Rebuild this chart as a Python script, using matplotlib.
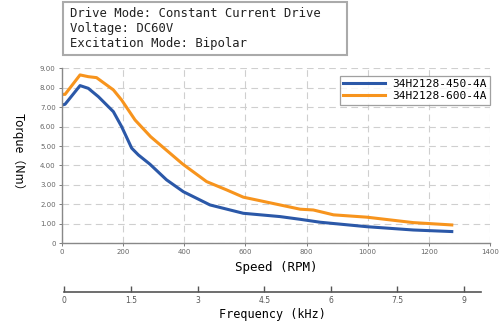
#!/usr/bin/env python3
"""
Torque-speed curves for 34H2128 stepper motors (DC60V, bipolar)
"""

import matplotlib
matplotlib.use('Agg')
import matplotlib.pyplot as plt
from matplotlib.patches import Rectangle
from matplotlib.ticker import FuncFormatter

# Data
speed_450 = [0, 10, 59, 86, 119, 168, 195, 228, 250, 288, 342, 397, 484,
             593, 713, 779, 844, 997, 1149, 1275]
torque_450 = [7.11, 7.15, 8.11, 7.97, 7.54, 6.77, 6.00, 4.89, 4.54, 4.06,
              3.26, 2.65, 1.97, 1.54, 1.37, 1.23, 1.08, 0.85, 0.68, 0.60]

speed_600 = [0, 10, 59, 86, 113, 168, 195, 239, 290, 395, 473, 539, 593,
             713, 779, 822, 888, 997, 1149, 1275]
torque_600 = [7.66, 7.66, 8.66, 8.57, 8.52, 7.89, 7.37, 6.34, 5.48, 4.07,
              3.17, 2.74, 2.37, 1.97, 1.75, 1.71, 1.46, 1.34, 1.06, 0.94]

labels = ['34H2128-450-4A', '34H2128-600-4A']
colors = ['#2b58a8', '#f7941d']

info_lines = ['Drive Mode: Constant Current Drive',
              'Voltage: DC60V',
              'Excitation Mode: Bipolar']

speed_ticks = [0, 200, 400, 600, 800, 1000, 1200, 1400]
torque_ticks = [0, 1, 2, 3, 4, 5, 6, 7, 8, 9]
freq_ticks = [0, 1.5, 3, 4.5, 6, 7.5, 9]

mono = 'DejaVu Sans Mono'
tick_color = '#666666'

fig = plt.figure(figsize=(5, 3.3), dpi=100)

# Main torque axes
ax = fig.add_axes([0.124, 0.263, 0.856, 0.530])
ax.plot(speed_450, torque_450, color=colors[0], lw=2.2, label=labels[0])
ax.plot(speed_600, torque_600, color=colors[1], lw=2.2, label=labels[1])

ax.set_xlim(0, 1400)
ax.set_ylim(0, 9)
ax.set_xticks(speed_ticks)
ax.set_yticks(torque_ticks)
ax.yaxis.set_major_formatter(FuncFormatter(lambda v, p: '0' if v == 0 else f'{v:.2f}'))
ax.tick_params(labelsize=5, colors=tick_color, length=2.5, width=0.6, pad=2)
ax.grid(True, color='#cfcfcf', linestyle=(0, (6, 4)), linewidth=0.8)
for side in ['top', 'right']:
    ax.spines[side].set_visible(False)
for side in ['left', 'bottom']:
    ax.spines[side].set_color('#888888')
    ax.spines[side].set_linewidth(1.0)

ax.set_xlabel('Speed (RPM)', family=mono, fontsize=9, labelpad=4)
fig.text(0.036, 0.53, 'Torque（Nm）', rotation=270, ha='center', va='center',
         fontsize=8.5, family=['Noto Sans CJK SC', 'DejaVu Sans'])

leg = ax.legend(loc='upper right', bbox_to_anchor=(1.012, 0.99), prop={'family': mono, 'size': 8},
                frameon=True, fancybox=False, edgecolor='#888888',
                handlelength=3.8, borderpad=0.3, labelspacing=0.2, handletextpad=0.6)
leg.get_frame().set_linewidth(0.9)

# Secondary frequency axis
fax = fig.add_axes([0.1286, 0.115, 0.8334, 0.0001])
fax.set_xlim(0, 9.38)
fax.set_xticks(freq_ticks)
fax.set_xticklabels([f'{t:g}' for t in freq_ticks])
fax.set_yticks([])
for side in ['top', 'right', 'left']:
    fax.spines[side].set_visible(False)
fax.spines['bottom'].set_color('#555555')
fax.spines['bottom'].set_linewidth(1.2)
fax.tick_params(axis='x', direction='in', length=4, width=1.0, colors='#555555',
                labelsize=5.5, pad=3)
fax.set_xlabel('Frequency (kHz)', family=mono, fontsize=8.5, labelpad=2)

# Info box at the top
fig.patches.append(Rectangle((0.126, 0.833), 0.568, 0.161, transform=fig.transFigure,
                             fill=False, edgecolor='#aaaaaa', linewidth=1.5))
for i, line in enumerate(info_lines):
    fig.text(0.14, 0.958 - i * 0.0455, line, family=mono, fontsize=8.8,
             ha='left', va='center', color='#222222')

plt.savefig('out.png', dpi=100)
plt.close()
